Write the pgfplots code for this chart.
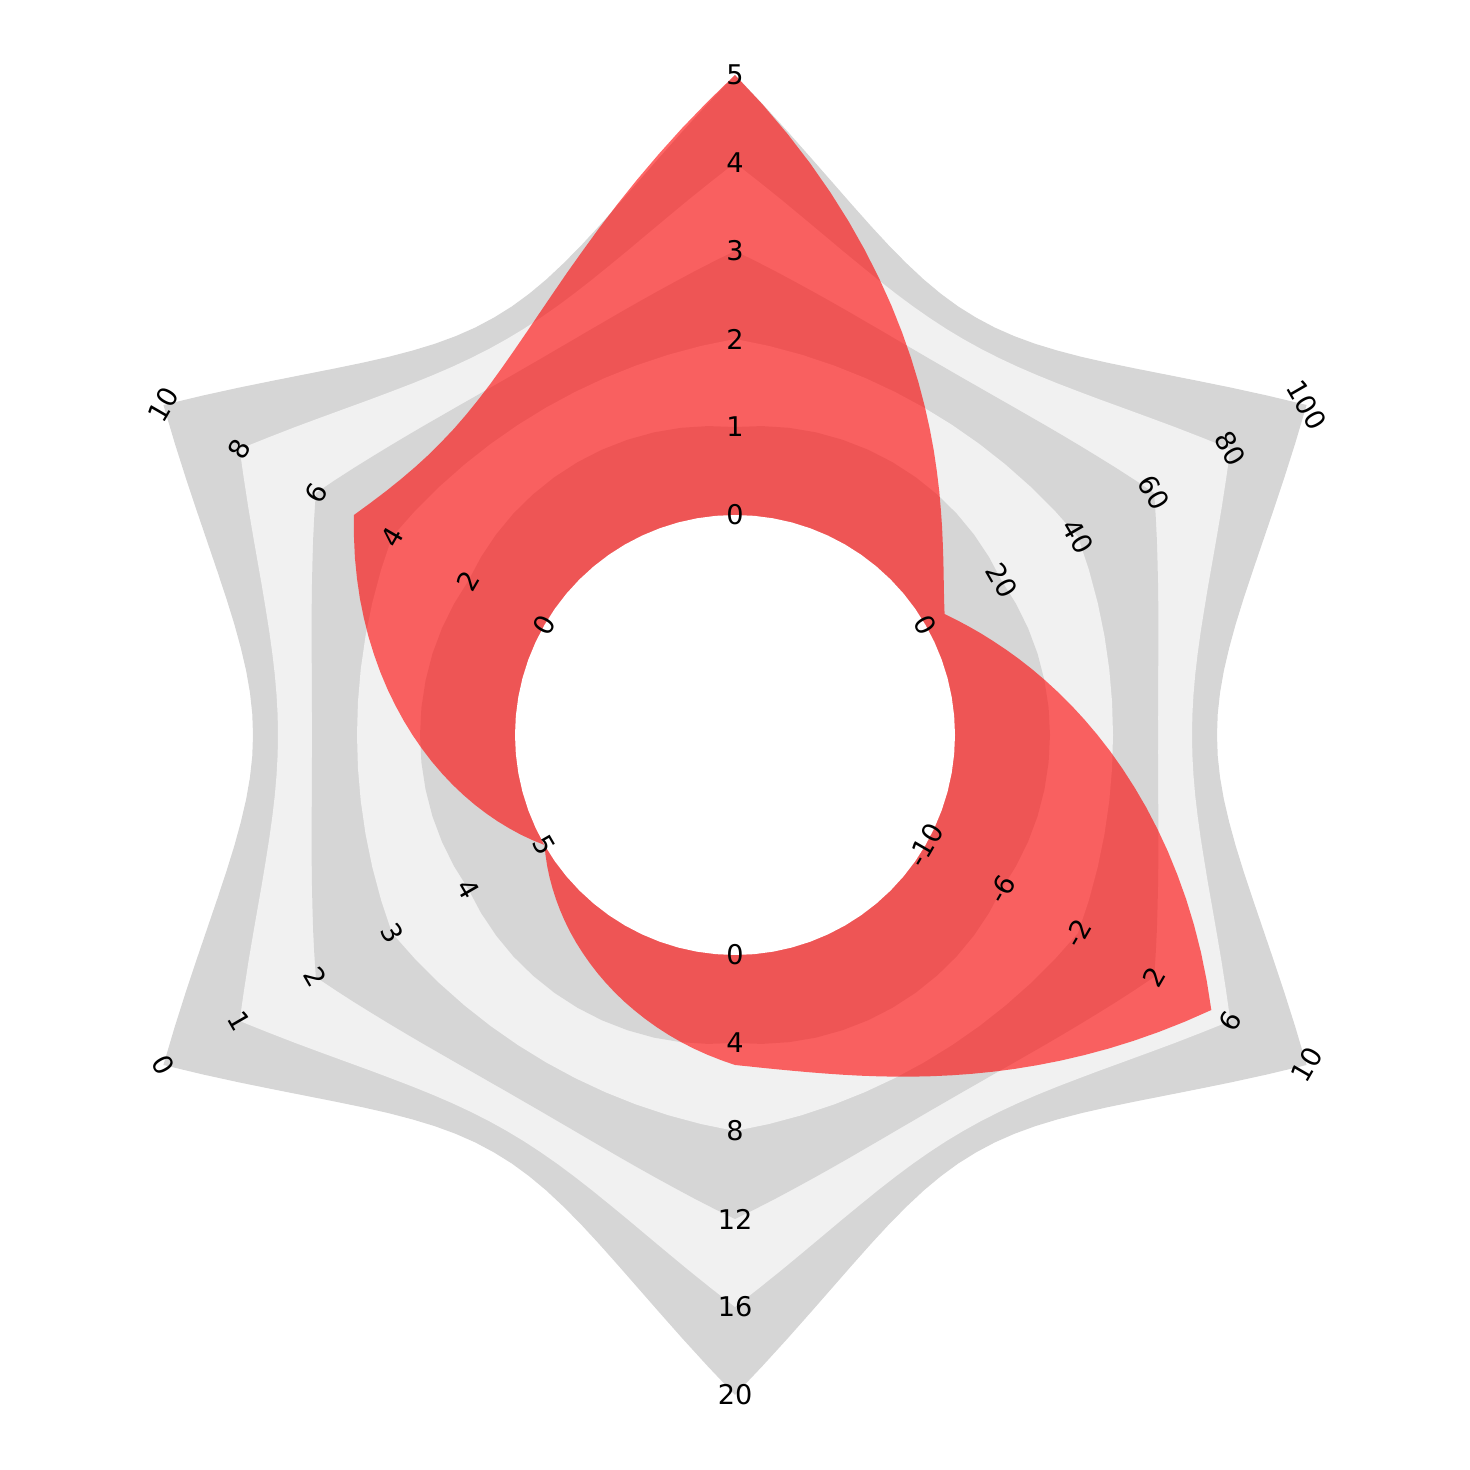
\documentclass[border=0pt]{standalone}
\usepackage{pgfplots}
\pgfplotsset{compat=1.18}
\usepackage{fontspec}
\setmainfont{DejaVu Sans}
\definecolor{bandA}{RGB}{214,214,214}
\definecolor{bandB}{RGB}{241,241,241}
\tikzset{tick lab/.style={anchor=center, font=\fontsize{9.8}{12}\selectfont, text=black}}
\begin{document}
\begin{tikzpicture}
\begin{axis}[width=7.35in, height=7.35in, scale only axis,
  xmin=-735, xmax=735, ymin=-735, ymax=735, hide axis, clip=false]
\path (axis cs:-735,-735) rectangle (axis cs:735,735);
% level 5
\addplot[draw=none, fill=bandA, data cs=polar, mark=none] coordinates {
(30,660) (32.5,631.6) (35,605.6) (37.5,582.1) (40,561.1) (42.5,542.6) (45,526.5) (47.5,512.9) (50,501.8) (52.5,493.1) (55,486.9) (57.5,483.2)
(60,482) (62.5,483.2) (65,486.9) (67.5,493.1) (70,501.8) (72.5,512.9) (75,526.5) (77.5,542.6) (80,561.1) (82.5,582.1) (85,605.6) (87.5,631.6)
(90,660) (92.5,631.6) (95,605.6) (97.5,582.1) (100,561.1) (102.5,542.6) (105,526.5) (107.5,512.9) (110,501.8) (112.5,493.1) (115,486.9) (117.5,483.2)
(120,482) (122.5,483.2) (125,486.9) (127.5,493.1) (130,501.8) (132.5,512.9) (135,526.5) (137.5,542.6) (140,561.1) (142.5,582.1) (145,605.6) (147.5,631.6)
(150,660) (152.5,631.6) (155,605.6) (157.5,582.1) (160,561.1) (162.5,542.6) (165,526.5) (167.5,512.9) (170,501.8) (172.5,493.1) (175,486.9) (177.5,483.2)
(180,482) (182.5,483.2) (185,486.9) (187.5,493.1) (190,501.8) (192.5,512.9) (195,526.5) (197.5,542.6) (200,561.1) (202.5,582.1) (205,605.6) (207.5,631.6)
(210,660) (212.5,631.6) (215,605.6) (217.5,582.1) (220,561.1) (222.5,542.6) (225,526.5) (227.5,512.9) (230,501.8) (232.5,493.1) (235,486.9) (237.5,483.2)
(240,482) (242.5,483.2) (245,486.9) (247.5,493.1) (250,501.8) (252.5,512.9) (255,526.5) (257.5,542.6) (260,561.1) (262.5,582.1) (265,605.6) (267.5,631.6)
(270,660) (272.5,631.6) (275,605.6) (277.5,582.1) (280,561.1) (282.5,542.6) (285,526.5) (287.5,512.9) (290,501.8) (292.5,493.1) (295,486.9) (297.5,483.2)
(300,482) (302.5,483.2) (305,486.9) (307.5,493.1) (310,501.8) (312.5,512.9) (315,526.5) (317.5,542.6) (320,561.1) (322.5,582.1) (325,605.6) (327.5,631.6)
(330,660) (332.5,631.6) (335,605.6) (337.5,582.1) (340,561.1) (342.5,542.6) (345,526.5) (347.5,512.9) (350,501.8) (352.5,493.1) (355,486.9) (357.5,483.2)
(360,482) (362.5,483.2) (365,486.9) (367.5,493.1) (370,501.8) (372.5,512.9) (375,526.5) (377.5,542.6) (380,561.1) (382.5,582.1) (385,605.6) (387.5,631.6)
};
% level 4
\addplot[draw=none, fill=bandB, data cs=polar, mark=none] coordinates {
(30,572) (32.5,553.6) (35,536.9) (37.5,521.7) (40,508.1) (42.5,496.1) (45,485.8) (47.5,477.0) (50,469.8) (52.5,464.2) (55,460.2) (57.5,457.8)
(60,457) (62.5,457.8) (65,460.2) (67.5,464.2) (70,469.8) (72.5,477.0) (75,485.8) (77.5,496.1) (80,508.1) (82.5,521.7) (85,536.9) (87.5,553.6)
(90,572) (92.5,553.6) (95,536.9) (97.5,521.7) (100,508.1) (102.5,496.1) (105,485.8) (107.5,477.0) (110,469.8) (112.5,464.2) (115,460.2) (117.5,457.8)
(120,457) (122.5,457.8) (125,460.2) (127.5,464.2) (130,469.8) (132.5,477.0) (135,485.8) (137.5,496.1) (140,508.1) (142.5,521.7) (145,536.9) (147.5,553.6)
(150,572) (152.5,553.6) (155,536.9) (157.5,521.7) (160,508.1) (162.5,496.1) (165,485.8) (167.5,477.0) (170,469.8) (172.5,464.2) (175,460.2) (177.5,457.8)
(180,457) (182.5,457.8) (185,460.2) (187.5,464.2) (190,469.8) (192.5,477.0) (195,485.8) (197.5,496.1) (200,508.1) (202.5,521.7) (205,536.9) (207.5,553.6)
(210,572) (212.5,553.6) (215,536.9) (217.5,521.7) (220,508.1) (222.5,496.1) (225,485.8) (227.5,477.0) (230,469.8) (232.5,464.2) (235,460.2) (237.5,457.8)
(240,457) (242.5,457.8) (245,460.2) (247.5,464.2) (250,469.8) (252.5,477.0) (255,485.8) (257.5,496.1) (260,508.1) (262.5,521.7) (265,536.9) (267.5,553.6)
(270,572) (272.5,553.6) (275,536.9) (277.5,521.7) (280,508.1) (282.5,496.1) (285,485.8) (287.5,477.0) (290,469.8) (292.5,464.2) (295,460.2) (297.5,457.8)
(300,457) (302.5,457.8) (305,460.2) (307.5,464.2) (310,469.8) (312.5,477.0) (315,485.8) (317.5,496.1) (320,508.1) (322.5,521.7) (325,536.9) (327.5,553.6)
(330,572) (332.5,553.6) (335,536.9) (337.5,521.7) (340,508.1) (342.5,496.1) (345,485.8) (347.5,477.0) (350,469.8) (352.5,464.2) (355,460.2) (357.5,457.8)
(360,457) (362.5,457.8) (365,460.2) (367.5,464.2) (370,469.8) (372.5,477.0) (375,485.8) (377.5,496.1) (380,508.1) (382.5,521.7) (385,536.9) (387.5,553.6)
};
% level 3
\addplot[draw=none, fill=bandA, data cs=polar, mark=none] coordinates {
(30,484) (32.5,474.3) (35,465.4) (37.5,457.3) (40,450.1) (42.5,443.8) (45,438.3) (47.5,433.6) (50,429.8) (52.5,426.8) (55,424.7) (57.5,423.4)
(60,423) (62.5,423.4) (65,424.7) (67.5,426.8) (70,429.8) (72.5,433.6) (75,438.3) (77.5,443.8) (80,450.1) (82.5,457.3) (85,465.4) (87.5,474.3)
(90,484) (92.5,474.3) (95,465.4) (97.5,457.3) (100,450.1) (102.5,443.8) (105,438.3) (107.5,433.6) (110,429.8) (112.5,426.8) (115,424.7) (117.5,423.4)
(120,423) (122.5,423.4) (125,424.7) (127.5,426.8) (130,429.8) (132.5,433.6) (135,438.3) (137.5,443.8) (140,450.1) (142.5,457.3) (145,465.4) (147.5,474.3)
(150,484) (152.5,474.3) (155,465.4) (157.5,457.3) (160,450.1) (162.5,443.8) (165,438.3) (167.5,433.6) (170,429.8) (172.5,426.8) (175,424.7) (177.5,423.4)
(180,423) (182.5,423.4) (185,424.7) (187.5,426.8) (190,429.8) (192.5,433.6) (195,438.3) (197.5,443.8) (200,450.1) (202.5,457.3) (205,465.4) (207.5,474.3)
(210,484) (212.5,474.3) (215,465.4) (217.5,457.3) (220,450.1) (222.5,443.8) (225,438.3) (227.5,433.6) (230,429.8) (232.5,426.8) (235,424.7) (237.5,423.4)
(240,423) (242.5,423.4) (245,424.7) (247.5,426.8) (250,429.8) (252.5,433.6) (255,438.3) (257.5,443.8) (260,450.1) (262.5,457.3) (265,465.4) (267.5,474.3)
(270,484) (272.5,474.3) (275,465.4) (277.5,457.3) (280,450.1) (282.5,443.8) (285,438.3) (287.5,433.6) (290,429.8) (292.5,426.8) (295,424.7) (297.5,423.4)
(300,423) (302.5,423.4) (305,424.7) (307.5,426.8) (310,429.8) (312.5,433.6) (315,438.3) (317.5,443.8) (320,450.1) (322.5,457.3) (325,465.4) (327.5,474.3)
(330,484) (332.5,474.3) (335,465.4) (337.5,457.3) (340,450.1) (342.5,443.8) (345,438.3) (347.5,433.6) (350,429.8) (352.5,426.8) (355,424.7) (357.5,423.4)
(360,423) (362.5,423.4) (365,424.7) (367.5,426.8) (370,429.8) (372.5,433.6) (375,438.3) (377.5,443.8) (380,450.1) (382.5,457.3) (385,465.4) (387.5,474.3)
};
% level 2
\addplot[draw=none, fill=bandB, data cs=polar, mark=none] coordinates {
(30,396) (35,390.5) (40,386) (45,382.5) (50,380) (55,378.5) (60,378) (65,378.5) (70,380) (75,382.5) (80,386) (85,390.5)
(90,396) (95,390.5) (100,386) (105,382.5) (110,380) (115,378.5) (120,378) (125,378.5) (130,380) (135,382.5) (140,386) (145,390.5)
(150,396) (155,390.5) (160,386) (165,382.5) (170,380) (175,378.5) (180,378) (185,378.5) (190,380) (195,382.5) (200,386) (205,390.5)
(210,396) (215,390.5) (220,386) (225,382.5) (230,380) (235,378.5) (240,378) (245,378.5) (250,380) (255,382.5) (260,386) (265,390.5)
(270,396) (275,390.5) (280,386) (285,382.5) (290,380) (295,378.5) (300,378) (305,378.5) (310,380) (315,382.5) (320,386) (325,390.5)
(330,396) (335,390.5) (340,386) (345,382.5) (350,380) (355,378.5) (360,378) (365,378.5) (370,380) (375,382.5) (380,386) (385,390.5)
};
% level 1
\addplot[draw=none, fill=bandA, data cs=polar, mark=none] coordinates {
(30,308) (35,310.1) (40,311.9) (45,313.3) (50,314.2) (55,314.8) (60,315) (65,314.8) (70,314.2) (75,313.3) (80,311.9) (85,310.1)
(90,308) (95,310.1) (100,311.9) (105,313.3) (110,314.2) (115,314.8) (120,315) (125,314.8) (130,314.2) (135,313.3) (140,311.9) (145,310.1)
(150,308) (155,310.1) (160,311.9) (165,313.3) (170,314.2) (175,314.8) (180,315) (185,314.8) (190,314.2) (195,313.3) (200,311.9) (205,310.1)
(210,308) (215,310.1) (220,311.9) (225,313.3) (230,314.2) (235,314.8) (240,315) (245,314.8) (250,314.2) (255,313.3) (260,311.9) (265,310.1)
(270,308) (275,310.1) (280,311.9) (285,313.3) (290,314.2) (295,314.8) (300,315) (305,314.8) (310,314.2) (315,313.3) (320,311.9) (325,310.1)
(330,308) (335,310.1) (340,311.9) (345,313.3) (350,314.2) (355,314.8) (360,315) (365,314.8) (370,314.2) (375,313.3) (380,311.9) (385,310.1)
};
% data series
\addplot[draw=none, fill=red, fill opacity=0.6, data cs=polar, mark=none] coordinates {
(30,242) (32.5,248.0) (35,255.0) (37.5,263.0) (40,272.0) (42.5,281.9) (45,292.9) (47.5,304.8) (50,317.8) (52.5,331.7) (55,346.7) (57.5,362.6)
(60,379.5) (62.5,397.4) (65,416.3) (67.5,436.2) (70,457.1) (72.5,479.0) (75,501.9) (77.5,525.8) (80,550.6) (82.5,576.5) (85,603.3) (87.5,631.2)
(90,660) (92.5,633.7) (95,609.0) (97.5,585.7) (100,563.9) (102.5,543.6) (105,524.8) (107.5,507.4) (110,491.6) (112.5,477.2) (115,464.3) (117.5,452.9)
(120,443) (122.5,434.6) (125,427.6) (127.5,422.2) (130,418.2) (132.5,415.7) (135,414.8) (137.5,415.2) (140,417.2) (142.5,420.7) (145,425.6) (147.5,432.1)
(150,440) (152.5,429.6) (155,419.4) (157.5,409.2) (160,399.2) (162.5,389.2) (165,379.4) (167.5,369.6) (170,360.0) (172.5,350.5) (175,341.0) (177.5,331.7)
(180,322.5) (182.5,313.4) (185,304.4) (187.5,295.5) (190,286.7) (192.5,278.0) (195,269.4) (197.5,260.9) (200,252.5) (202.5,244.2) (205,236.1) (207.5,228.0)
(210,220) (212.5,224.6) (215,229.2) (217.5,233.8) (220,238.3) (222.5,242.9) (225,247.5) (227.5,252.1) (230,256.7) (232.5,261.3) (235,265.8) (237.5,270.4)
(240,275) (242.5,279.6) (245,284.2) (247.5,288.8) (250,293.3) (252.5,297.9) (255,302.5) (257.5,307.1) (260,311.7) (262.5,316.3) (265,320.8) (267.5,325.4)
(270,330) (272.5,331.8) (275,334.3) (277.5,337.4) (280,341.1) (282.5,345.5) (285,350.5) (287.5,356.2) (290,362.5) (292.5,369.4) (295,377.0) (297.5,385.2)
(300,394) (302.5,403.5) (305,413.6) (307.5,424.4) (310,435.8) (312.5,447.8) (315,460.5) (317.5,473.8) (320,487.8) (322.5,502.4) (325,517.6) (327.5,533.5)
(330,550) (332.5,531.8) (335,514.1) (337.5,496.9) (340,480.1) (342.5,463.7) (345,447.9) (347.5,432.5) (350,417.6) (352.5,403.1) (355,389.1) (357.5,375.6)
(360,362.5) (362.5,349.9) (365,337.8) (367.5,326.1) (370,314.9) (372.5,304.2) (375,293.9) (377.5,284.1) (380,274.7) (382.5,265.9) (385,257.4) (387.5,249.5)
};
% hole
\addplot[draw=none, fill=white, data cs=polar, mark=none] coordinates {
(0,220) (5,220) (10,220) (15,220) (20,220) (25,220) (30,220) (35,220) (40,220) (45,220) (50,220) (55,220)
(60,220) (65,220) (70,220) (75,220) (80,220) (85,220) (90,220) (95,220) (100,220) (105,220) (110,220) (115,220)
(120,220) (125,220) (130,220) (135,220) (140,220) (145,220) (150,220) (155,220) (160,220) (165,220) (170,220) (175,220)
(180,220) (185,220) (190,220) (195,220) (200,220) (205,220) (210,220) (215,220) (220,220) (225,220) (230,220) (235,220)
(240,220) (245,220) (250,220) (255,220) (260,220) (265,220) (270,220) (275,220) (280,220) (285,220) (290,220) (295,220)
(300,220) (305,220) (310,220) (315,220) (320,220) (325,220) (330,220) (335,220) (340,220) (345,220) (350,220) (355,220)
};
% tick labels
\addplot[draw=none, mark=none, data cs=polar, nodes near coords, point meta=explicit symbolic,
  nodes near coords style={tick lab}] coordinates {
(90,220) [0] (90,308) [1] (90,396) [2] (90,484) [3] (90,572) [4] (90,660) [5]};
\addplot[draw=none, mark=none, data cs=polar, nodes near coords, point meta=explicit symbolic,
  nodes near coords style={tick lab, rotate=-60}] coordinates {
(30,220) [0] (30,308) [20] (30,396) [40] (30,484) [60] (30,572) [80] (30,660) [100]};
\addplot[draw=none, mark=none, data cs=polar, nodes near coords, point meta=explicit symbolic,
  nodes near coords style={tick lab, rotate=60}] coordinates {
(-30,220) [-10] (-30,308) [-6] (-30,396) [-2] (-30,484) [2] (-30,572) [6] (-30,660) [10]};
\addplot[draw=none, mark=none, data cs=polar, nodes near coords, point meta=explicit symbolic,
  nodes near coords style={tick lab}] coordinates {
(-90,220) [0] (-90,308) [4] (-90,396) [8] (-90,484) [12] (-90,572) [16] (-90,660) [20]};
\addplot[draw=none, mark=none, data cs=polar, nodes near coords, point meta=explicit symbolic,
  nodes near coords style={tick lab, rotate=-60}] coordinates {
(210,220) [5] (210,308) [4] (210,396) [3] (210,484) [2] (210,572) [1] (210,660) [0]};
\addplot[draw=none, mark=none, data cs=polar, nodes near coords, point meta=explicit symbolic,
  nodes near coords style={tick lab, rotate=60}] coordinates {
(150,220) [0] (150,308) [2] (150,396) [4] (150,484) [6] (150,572) [8] (150,660) [10]};
\end{axis}
\end{tikzpicture}
\end{document}
